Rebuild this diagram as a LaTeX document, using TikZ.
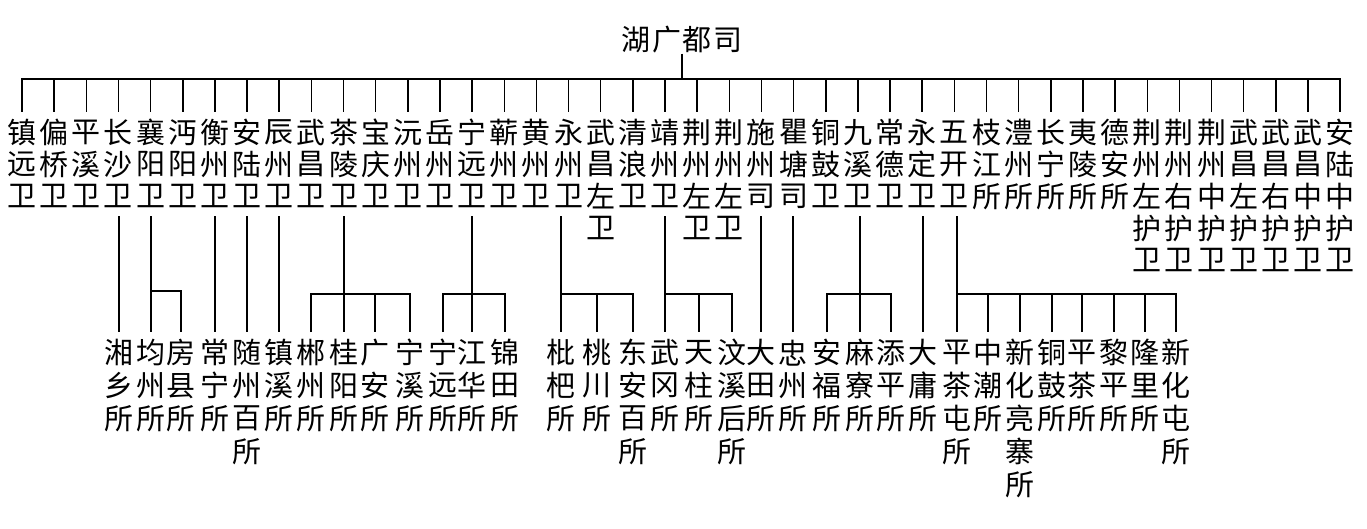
\documentclass[tikz,border=0pt]{standalone}
\usepackage{fontspec}
\newfontfamily\cjk{Noto Sans CJK SC}
\newlength\colpitch
\makeatletter
\newcommand\vcol[1]{\vbox{\offinterlineskip\@tfor\zz:=#1\do{\hbox to 31pt{\hss\vbox to\colpitch{\vss\hbox{\zz}\vss}\hss}}}}
\makeatother
\tikzset{
  link/.style={line width=1.5pt, black},
  topcol/.style={anchor=north, inner xsep=0pt, inner ysep=4pt,
    font=\cjk\fontsize{29}{32}\selectfont\setlength\colpitch{32pt}},
  botcol/.style={anchor=north, inner xsep=0pt, inner ysep=4pt,
    font=\cjk\fontsize{29}{33}\selectfont\setlength\colpitch{33pt}},
  rootbox/.style={inner sep=0pt, font=\cjk\fontsize{29}{32}\selectfont}
}
\begin{document}
\begin{tikzpicture}[x=1pt,y=-1pt]
\useasboundingbox[fill=white] (0,0) rectangle (1367,529);
\coordinate (bar) at (681,79);
\coordinate (busA) at (0,291);
\coordinate (busB) at (0,294);
\node[rootbox] (root) at (682,40) {湖\kern1.5pt 广\kern1.5pt 都\kern1.5pt 司};
% top level
\foreach \t [count=\i] in {镇远卫,偏桥卫,平溪卫,长沙卫,襄阳卫,沔阳卫,衡州卫,安陆卫,辰州卫,武昌卫,
  茶陵卫,宝庆卫,沅州卫,岳州卫,宁远卫,蕲州卫,黄州卫,永州卫,武昌左卫,清浪卫,
  靖州卫,荆州左卫,荆州左卫,施州司,瞿塘司,铜鼓卫,九溪卫,常德卫,永定卫,五开卫,
  枝江所,澧州所,长宁所,夷陵所,德安所,荆州左护卫,荆州右护卫,荆州中护卫,武昌左护卫,武昌右护卫,武昌中护卫,安陆中护卫}
  {\node[topcol] (t\i) at ({22+32.15*(\i-1)},112) {\expandafter\vcol\expandafter{\t}};}
% bottom level
\foreach \x/\t [count=\i] in {119/湘乡所,151/均州所,181/房县所,215/常宁所,247/随州百所,279/镇溪所,
  311/郴州所,344/桂阳所,375/广安所,410/宁溪所,443/宁远所,472/江华所,505/锦田所,
  561/枇杷所,597/桃川所,633/东安百所,665/武冈所,699/天柱所,732/汶溪后所,761/大田所,
  793/忠州所,827/安福所,860/麻寮所,891/添平所,923/大庸所,957/平茶屯所,988/中潮所,
  1020/新化亮寨所,1052/铜鼓所,1082/平茶所,1114/黎平所,1145/隆里所,1176/新化屯所}
  {\node[botcol] (b\i) at (\x,332) {\expandafter\vcol\expandafter{\t}};}
% root to bar
\draw[link] (root.south) -- (root.south |- bar);
\draw[link] (t1.north) -- (t1.north |- bar) -- (t42.north |- bar) -- (t42.north);
\foreach \i in {2,...,41} {\draw[link] (t\i.north |- bar) -- (t\i.north);}
% single children
\draw[link] (t4.south -| b1.north) -- (b1.north);
\draw[link] (t7.south -| b4.north) -- (b4.north);
\draw[link] (t8.south -| b5.north) -- (b5.north);
\draw[link] (t9.south -| b6.north) -- (b6.north);
\draw[link] (t24.south -| b20.north) -- (b20.north);
\draw[link] (t25.south -| b21.north) -- (b21.north);
\draw[link] (t29.south -| b25.north) -- (b25.north);
% 襄阳卫
\draw[link] (t5.south -| b2.north) -- (b2.north);
\draw[link] (b2.north |- busA) -- (b3.north |- busA) -- (b3.north);
% 茶陵卫
\draw[link] (t11.south -| b8.north) -- (b8.north);
\draw[link] (b7.north) -- (b7.north |- busB) -- (b10.north |- busB) -- (b10.north);
\draw[link] (b9.north |- busB) -- (b9.north);
% 宁远卫
\draw[link] (t15.south -| b12.north) -- (b12.north);
\draw[link] (b11.north) -- (b11.north |- busB) -- (b13.north |- busB) -- (b13.north);
% 永州卫
\draw[link] (t18.south -| b14.north) -- (b14.north);
\draw[link] (b14.north |- busB) -- (b16.north |- busB) -- (b16.north);
\draw[link] (b15.north |- busB) -- (b15.north);
% 靖州卫
\draw[link] (t21.south -| b17.north) -- (b17.north);
\draw[link] (b17.north |- busB) -- (b19.north |- busB) -- (b19.north);
\draw[link] (b18.north |- busB) -- (b18.north);
% 九溪卫
\draw[link] (t27.south -| b23.north) -- (b23.north);
\draw[link] (b22.north) -- (b22.north |- busB) -- (b24.north |- busB) -- (b24.north);
% 五开卫
\draw[link] (t30.south -| b26.north) -- (b26.north);
\draw[link] (b26.north |- busB) -- (b33.north |- busB) -- (b33.north);
\foreach \i in {27,...,32} {\draw[link] (b\i.north |- busB) -- (b\i.north);}
\end{tikzpicture}
\end{document}
